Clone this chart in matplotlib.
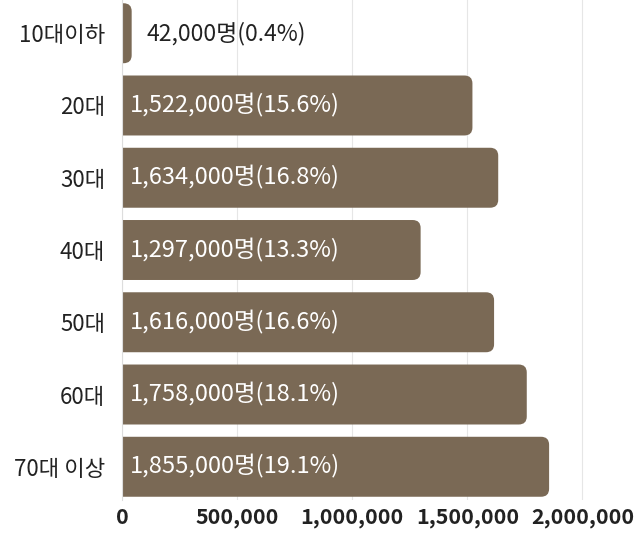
import matplotlib.pyplot as plt
from matplotlib.patches import FancyBboxPatch

plt.rcParams["font.family"] = ["Noto Sans CJK KR", "DejaVu Sans"]

groups = ["10대이하", "20대", "30대", "40대", "50대", "60대", "70대 이상"]
counts = [42000, 1522000, 1634000, 1297000, 1616000, 1758000, 1855000]
shares = ["0.4", "15.6", "16.8", "13.3", "16.6", "18.1", "19.1"]
xticks = [0, 500000, 1000000, 1500000, 2000000]

bar_color = "#7a6955"

fig = plt.figure(figsize=(6.39, 5.36), dpi=100)
ax = fig.add_axes([122 / 639, 1 - 500 / 536, 472 / 639, 500 / 536])

ax.set_xlim(0, 2050000)
ax.set_ylim(len(groups) - 0.54, -0.46)

r = 35000
aspect = 0.11 / r
h = 0.83
for i, v in enumerate(counts):
    box = FancyBboxPatch((-40000, i - h / 2), v + 40000, h,
                         boxstyle=f"round,pad=0,rounding_size={r}",
                         mutation_aspect=aspect, fc=bar_color, ec="none",
                         zorder=2)
    ax.add_patch(box)
    label = f"{v:,}명({shares[i]}%)"
    if v < 200000:
        ax.text(v + 65000, i, label, ha="left", va="center",
                fontsize=16.5, color="#222222", zorder=3)
    else:
        ax.text(35000, i, label, ha="left", va="center",
                fontsize=17, color="white", zorder=3)

ax.set_yticks(range(len(groups)))
ax.set_yticklabels(groups, fontsize=16, fontweight="medium", color="#222222")
ax.set_xticks(xticks)
ax.set_xticklabels([f"{t:,}" for t in xticks], fontsize=15.5,
                   fontweight="bold", color="#222222")
ax.tick_params(length=0, axis="both")
ax.tick_params(axis="y", pad=12)
ax.tick_params(axis="x", pad=5)

ax.grid(axis="x", color="#e6e6e6", lw=0.8, zorder=0)
for s in ["top", "right", "bottom"]:
    ax.spines[s].set_visible(False)
ax.spines["left"].set_color("#dddddd")

fig.savefig("out.png", dpi=100)
